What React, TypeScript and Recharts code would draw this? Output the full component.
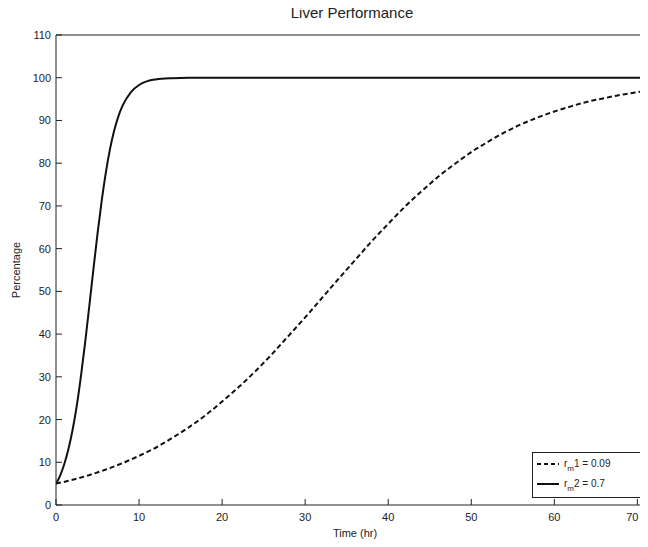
import { LineChart, Line, XAxis, YAxis } from "recharts"

// r_m2 = 0.7 (solid)
const fastTime = [0, 0.5, 1, 1.5, 2, 2.5, 3, 3.5, 4, 4.5, 5, 5.5, 6, 6.5, 7, 7.5, 8, 9, 10, 11, 12, 14, 16, 20, 30, 40, 50, 60, 72]
const fastPct = [5, 6.9, 9.6, 13.1, 17.6, 23.2, 30.1, 37.9, 46.4, 55.1, 63.5, 71.2, 77.8, 83.3, 87.6, 90.9, 93.4, 96.6, 98.3, 99.2, 99.6, 99.9, 100, 100, 100, 100, 100, 100, 100]

// r_m1 = 0.09 (dashed)
const slowTime = [0, 2, 4, 6, 8, 10, 12, 14, 16, 18, 20, 22, 24, 26, 28, 30, 32, 34, 36, 38, 40, 42, 44, 46, 48, 50, 52, 54, 56, 58, 60, 62, 64, 66, 68, 70, 72]
const slowPct = [5, 5.9, 7, 8.3, 9.8, 11.5, 13.4, 15.7, 18.2, 21, 24.2, 27.6, 31.3, 35.3, 39.6, 43.9, 48.4, 52.9, 57.3, 61.7, 65.8, 69.8, 73.4, 76.8, 79.8, 82.6, 85, 87.2, 89.1, 90.7, 92.1, 93.3, 94.4, 95.2, 96, 96.6, 97.2]

const xTicks = [0, 10, 20, 30, 40, 50, 60, 70]
const yTicks = [0, 10, 20, 30, 40, 50, 60, 70, 80, 90, 100, 110]

const fastData = fastTime.map((t, i) => ({ t, v: fastPct[i] }))
const slowData = slowTime.map((t, i) => ({ t, v: slowPct[i] }))

const FONT = "'Liberation Sans', Arial, sans-serif"
const INK = "#222"

function BottomTick({ x, y, payload }: any) {
  // last label sits at the figure's cut edge, nudge it in
  const lx = x > 620 ? x - 5 : x
  return (
    <g>
      <line x1={x} y1={y} x2={x} y2={y - 6} stroke={INK} strokeWidth={1} />
      <text x={lx} y={y + 16} textAnchor="middle" fontSize={11} fill={INK} fontFamily={FONT}>
        {payload.value}
      </text>
    </g>
  )
}

function TopTick({ x, y }: any) {
  return <line x1={x} y1={y} x2={x} y2={y + 6} stroke={INK} strokeWidth={1} />
}

function LeftTick({ x, y, payload }: any) {
  return (
    <g>
      <line x1={x} y1={y} x2={x + 6} y2={y} stroke={INK} strokeWidth={1} />
      <text x={x - 5} y={y + 4} textAnchor="end" fontSize={11} fill={INK} fontFamily={FONT}>
        {payload.value}
      </text>
    </g>
  )
}

function LegendBox() {
  return (
    <svg width={110} height={47} style={{ display: "block" }}>
      <rect x={0.5} y={0.5} width={108} height={45} fill="#fff" stroke={INK} />
      <line x1={5} y1={12} x2={27} y2={12} stroke="#111" strokeWidth={2} strokeDasharray="4 3" />
      <text x={32} y={15} fontSize={10} fill={INK} fontFamily={FONT}>
        r<tspan fontSize={8} dy={4}>m</tspan>
        <tspan dy={-4}>1 = 0.09</tspan>
      </text>
      <line x1={5} y1={32} x2={27} y2={32} stroke="#111" strokeWidth={2} />
      <text x={32} y={35} fontSize={10} fill={INK} fontFamily={FONT}>
        r<tspan fontSize={8} dy={4}>m</tspan>
        <tspan dy={-4}>2 = 0.7</tspan>
      </text>
    </svg>
  )
}

export default function App() {
  return (
    <div style={{ position: "relative", width: 648, height: 547, margin: -8, overflow: "hidden", background: "#fff" }}>
      <div
        style={{
          position: "absolute",
          top: 4,
          left: 56,
          width: 592,
          textAlign: "center",
          fontFamily: FONT,
          fontSize: 15,
          color: INK,
        }}
      >
        Liver Performance
      </div>
      <LineChart width={656} height={547} margin={{ top: 34, right: 1, bottom: 0, left: 0 }}>
        <XAxis
          type="number"
          dataKey="t"
          domain={[0, 72]}
          ticks={xTicks}
          allowDataOverflow
          height={42}
          tickSize={0}
          tickMargin={0}
          tickLine={false}
          axisLine={{ stroke: INK }}
          tick={<BottomTick />}
          label={{ value: "Time (hr)", position: "insideBottom", offset: 10, fontSize: 11, fill: INK, fontFamily: FONT }}
        />
        <XAxis
          xAxisId="top"
          orientation="top"
          type="number"
          domain={[0, 72]}
          ticks={xTicks}
          allowDataOverflow
          height={1}
          tickSize={0}
          tickMargin={0}
          tickLine={false}
          axisLine={{ stroke: INK }}
          tick={<TopTick />}
        />
        <YAxis
          type="number"
          domain={[0, 110]}
          ticks={yTicks}
          allowDataOverflow
          width={56}
          tickSize={0}
          tickMargin={0}
          tickLine={false}
          axisLine={{ stroke: INK }}
          tick={<LeftTick />}
          label={{
            content: ({ viewBox }: any) => (
              <text
                x={viewBox.x + 20}
                y={viewBox.y + viewBox.height / 2}
                transform={`rotate(-90 ${viewBox.x + 20} ${viewBox.y + viewBox.height / 2})`}
                textAnchor="middle"
                fontSize={11}
                fill={INK}
                fontFamily={FONT}
              >
                Percentage
              </text>
            ),
          }}
        />
        <YAxis
          yAxisId="right"
          orientation="right"
          type="number"
          domain={[0, 110]}
          ticks={yTicks}
          width={1}
          tick={false}
          tickLine={false}
          axisLine={{ stroke: INK }}
        />
        <Line
          data={slowData}
          dataKey="v"
          type="monotone"
          stroke="#111"
          strokeWidth={2}
          strokeDasharray="5 3"
          dot={false}
          isAnimationActive={false}
        />
        <Line
          data={fastData}
          dataKey="v"
          type="monotone"
          stroke="#111"
          strokeWidth={2}
          dot={false}
          isAnimationActive={false}
        />
      </LineChart>
      <div style={{ position: "absolute", left: 532, top: 452 }}>
        <LegendBox />
      </div>
    </div>
  )
}
